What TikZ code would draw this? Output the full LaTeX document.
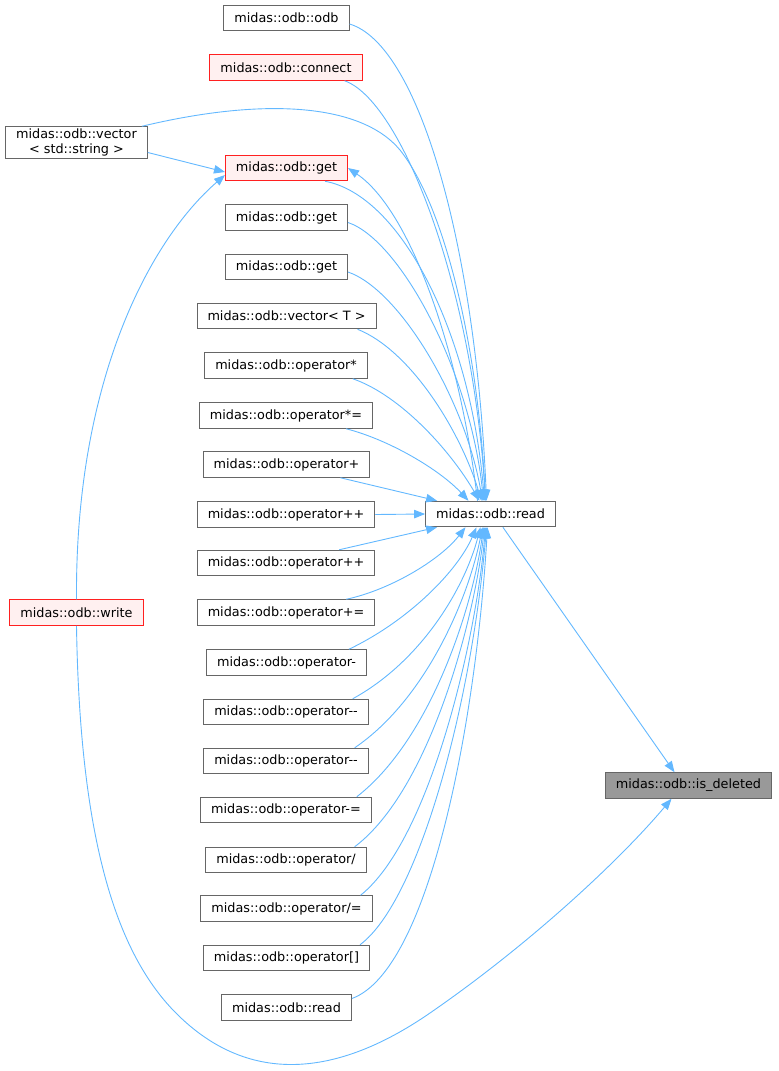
\documentclass[tikz,border=0pt]{standalone}
\usepackage{fontspec}
\setmainfont{DejaVu Sans}
\usetikzlibrary{arrows.meta}
\definecolor{edgeblue}{HTML}{63B8FF}
\definecolor{boxgray}{HTML}{666666}
\definecolor{mainfill}{HTML}{999999}
\definecolor{hotfill}{HTML}{FFF0F0}
\definecolor{hotline}{HTML}{FF2020}
\begin{document}
\begin{tikzpicture}[
		x=1pt, y=-1pt,
		font=\fontsize{12.8}{15}\selectfont,
		fn/.style={draw=boxgray, fill=white, line width=1pt, inner xsep=10.5pt, inner ysep=0pt, minimum height=25.5pt},
		hot/.style={fn, draw=hotline, fill=hotfill},
		focus/.style={fn, fill=mainfill},
		call/.style={draw=edgeblue, line width=0.9pt, -{Triangle[length=11pt,width=8.5pt]}}
	]
	\useasboundingbox (0,0) rectangle (779,1071);
	% callers of read, left column
	\node[fn] (odb) at (286.5,18) {midas::odb::odb};
	\node[hot] (connect) at (286,67.5) {midas::odb::connect};
	\node[fn, align=center, inner ysep=2pt] (vecstr) at (76.5,142.5) {midas::odb::vector\\< std::string >};
	\node[hot] (get1) at (286.5,168) {midas::odb::get};
	\node[fn] (get2) at (286.5,217.5) {midas::odb::get};
	\node[fn] (get3) at (286.5,267) {midas::odb::get};
	\node[fn] (vecT) at (286.5,316) {midas::odb::vector< T >};
	\node[fn] (opmul) at (286,365.5) {midas::odb::operator*};
	\node[fn] (opmuleq) at (286,415.5) {midas::odb::operator*=};
	\node[fn] (opplus) at (286.5,464.5) {midas::odb::operator+};
	\node[fn] (opinc1) at (286,514.5) {midas::odb::operator++};
	\node[fn] (opinc2) at (286,563) {midas::odb::operator++};
	\node[fn] (oppluseq) at (286,612.5) {midas::odb::operator+=};
	\node[fn] (opminus) at (286.5,662.5) {midas::odb::operator-};
	\node[fn] (opdec1) at (286,712) {midas::odb::operator-{}-};
	\node[fn] (opdec2) at (286,761) {midas::odb::operator-{}-};
	\node[fn] (opminuseq) at (286,810) {midas::odb::operator-=};
	\node[fn] (opdiv) at (286,860) {midas::odb::operator/};
	\node[fn] (opdiveq) at (286.5,908.5) {midas::odb::operator/=};
	\node[fn] (opidx) at (286.5,958) {midas::odb::operator[]};
	\node[fn] (read2) at (286.5,1007.5) {midas::odb::read};
	\node[hot] (write) at (76.5,612.5) {midas::odb::write};
	% read and the function itself
	\node[fn] (read) at (490.5,514) {midas::odb::read};
	\node[focus] (isdel) at (688.5,785.5) {midas::odb::is\_deleted};

	% into read from above
	\draw[call] (odb.east) ++(0,6) .. controls (420,45) and (476,250) .. ([xshift=-4pt]read.north);
	\draw[call] (connect.south east) ++(-18,0) .. controls (400,100) and (472,280) .. ([xshift=-5pt]read.north);
	\draw[call] (vecstr.north east) ++(-6,0) .. controls (260,98) and (360,102) .. (400,150) .. controls (446,208) and (478,350) .. ([xshift=-5pt]read.north);
	\draw[call] (get1.south east) ++(-23,0) .. controls (400,195) and (470,330) .. ([xshift=-6pt]read.north);
	\draw[call] (get2.east) ++(0,5) .. controls (400,240) and (470,370) .. ([xshift=-7pt]read.north);
	\draw[call] (get3.east) ++(0,5) .. controls (400,290) and (465,400) .. ([xshift=-8pt]read.north);
	\draw[call] (vecT.south east) ++(-19,0) .. controls (410,350) and (460,430) .. ([xshift=-9pt]read.north);
	\draw[call] (opmul.south east) ++(-15,0) .. controls (400,395) and (450,450) .. ([xshift=-11pt]read.north);
	\draw[call] (opmuleq.south east) ++(-27,0) .. controls (390,440) and (440,470) .. ([xshift=-22pt]read.north);
	\draw[call] (opplus.south east) ++(-30,0) -- ([xshift=12pt]read.north west);
	\draw[call] (opinc1.east) -- (read.west);
	\draw[call] (opinc2.north east) ++(-36,0) -- ([xshift=12pt]read.south west);
	% into read from below
	\draw[call] (oppluseq.north east) ++(-29,0) .. controls (390,590) and (440,560) .. ([xshift=-25pt]read.south);
	\draw[call] (opminus.north east) ++(-18,0) .. controls (410,620) and (458,570) .. ([xshift=-14pt]read.south);
	\draw[call] (opdec1.north east) ++(-16,0) .. controls (420,662) and (464,590) .. ([xshift=-10pt]read.south);
	\draw[call] (opdec2.north east) ++(-14,0) .. controls (425,700) and (468,600) .. ([xshift=-8pt]read.south);
	\draw[call] (opminuseq.north east) ++(-15,0) .. controls (430,740) and (472,610) .. ([xshift=-7pt]read.south);
	\draw[call] (opdiv.north east) ++(-12,0) .. controls (430,790) and (474,620) .. ([xshift=-6pt]read.south);
	\draw[call] (opdiveq.north east) ++(-12,0) .. controls (430,840) and (476,640) .. ([xshift=-5pt]read.south);
	\draw[call] (opidx.north east) ++(-10,0) .. controls (420,900) and (472,700) .. ([xshift=-4pt]read.south);
	\draw[call] (read2.east) ++(0,-9) .. controls (430,970) and (476,720) .. ([xshift=-3pt]read.south);
	% the rest
	\draw[call] ([xshift=-13pt]read.north) .. controls (460,350) and (410,210) .. (get1.east);
	\draw[call] (vecstr.east) ++(0,10) -- ([yshift=-4pt]get1.west);
	\draw[call] (write.north) .. controls (75,380) and (150,240) .. ([yshift=-7pt]get1.west);
	\draw[call] ([xshift=-53pt]read.south east) -- ([xshift=-14pt]isdel.north);
	\draw[call] (write.south) .. controls (80,850) and (120,960) .. (180,1017) .. controls (246,1080) and (330,1082) .. (430,1013) .. controls (530,944) and (620,860) .. ([xshift=-17pt]isdel.south);
\end{tikzpicture}
\end{document}
